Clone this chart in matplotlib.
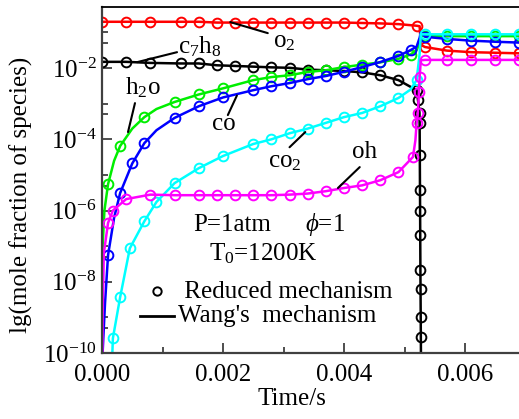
import numpy as np
import matplotlib.pyplot as plt
from matplotlib.lines import Line2D

plt.rcParams['font.family'] = ['Liberation Serif', 'DejaVu Serif']
plt.rcParams['mathtext.fontset'] = 'custom'
plt.rcParams['mathtext.rm'] = 'Liberation Serif'
plt.rcParams['mathtext.it'] = 'Liberation Serif:italic'

# ---- data (time in s, mole fraction) ----
t_o2 = [0, 0.0004, 0.0008, 0.0013, 0.0016, 0.0019, 0.0022, 0.0025, 0.0028, 0.0031, 0.0034, 0.0037,
        0.0040, 0.0043, 0.0046, 0.0049, 0.0052, 0.00525, 0.00527, 0.00534, 0.0057, 0.0061, 0.0065, 0.0069]
o2 = [0.20, 0.20, 0.20, 0.20, 0.20, 0.19, 0.19, 0.19, 0.19, 0.19, 0.19, 0.19,
      0.19, 0.185, 0.18, 0.172, 0.155, 0.15, 0.045, 0.039, 0.031, 0.028, 0.027, 0.026]
mk_o2 = [0, 1, 2, 3, 4, 5, 6, 7, 8, 9, 10, 11, 12, 13, 14, 15, 16, 19, 20, 21, 22, 23]

t_c7h8 = [0, 0.0004, 0.0008, 0.0013, 0.0016, 0.0019, 0.0022, 0.0025, 0.0028, 0.0031, 0.0034, 0.0037,
          0.0040, 0.0043, 0.0046, 0.0049, 0.0052, 0.005223, 0.005248, 0.00525, 0.005253, 0.005256,
          0.005258, 0.00526, 0.005263, 0.005265, 0.005268, 0.00527, 0.00528, 0.0069]
c7h8 = [1.5e-2, 1.5e-2, 1.4e-2, 1.35e-2, 1.35e-2, 1.2e-2, 1.15e-2, 1.1e-2, 1.05e-2, 1.02e-2, 9.1e-3, 8.7e-3,
        8.3e-3, 7.6e-3, 6.3e-3, 4.6e-3, 2.4e-3, 1.26e-3, 5.5e-4, 2.9e-4, 3.6e-5, 3.7e-6,
        1.0e-6, 2.0e-7, 2.1e-8, 6.2e-9, 1.0e-9, 2.8e-10, 1e-12, 1e-12]
mk_c7h8 = list(range(28))

t_h2o = [0, 0.00001, 0.00004, 0.0001, 0.0002, 0.0003, 0.0005, 0.0007, 0.0009, 0.0012, 0.0016, 0.002,
         0.0025, 0.0028, 0.0031, 0.0034, 0.0037, 0.0040, 0.0043, 0.0046, 0.0049, 0.0051, 0.0052,
         0.00525, 0.00527, 0.00534, 0.0057, 0.0061, 0.0065, 0.0069]
h2o = [1e-12, 1.0e-7, 1.0e-6, 5.5e-6, 2.5e-5, 6.5e-5, 2.0e-4, 4.2e-4, 7.1e-4, 1.12e-3, 1.82e-3, 2.7e-3,
       4.6e-3, 5.6e-3, 6.3e-3, 7.8e-3, 8.7e-3, 1.07e-2, 1.25e-2, 1.45e-2, 1.82e-2, 2.4e-2, 3.2e-2,
       5.0e-2, 7.9e-2, 7.9e-2, 7.9e-2, 7.9e-2, 7.9e-2, 7.9e-2]
mk_h2o = [3, 5, 7, 9, 10, 11, 12, 13, 14, 15, 16, 17, 18, 19, 20, 21, 25, 26, 27, 28, 29]

t_co = [0, 0.00001, 0.00005, 0.0001, 0.0002, 0.0003, 0.0005, 0.0007, 0.0009, 0.0012, 0.0016, 0.002,
        0.0025, 0.0028, 0.0031, 0.0034, 0.0037, 0.0040, 0.0043, 0.0046, 0.0049, 0.0051, 0.0052,
        0.00525, 0.00527, 0.00534, 0.0057, 0.0061, 0.0065, 0.0069]
co = [1e-12, 1e-10, 2.5e-9, 5.6e-8, 6.3e-7, 3.1e-6, 2.1e-5, 7.8e-5, 1.8e-4, 4.0e-4, 8.5e-4, 1.5e-3,
      2.4e-3, 3.1e-3, 3.8e-3, 4.9e-3, 6.0e-3, 7.9e-3, 1.07e-2, 1.48e-2, 2.2e-2, 3.2e-2, 4.0e-2,
      7.1e-2, 1.02e-1, 7.6e-2, 6.6e-2, 5.9e-2, 5.5e-2, 5.2e-2]
mk_co = [3, 5, 6, 7, 9, 10, 11, 12, 13, 14, 15, 16, 17, 18, 19, 20, 21, 25, 26, 27, 28, 29]

t_co2 = [0, 0.00015, 0.00018, 0.0003, 0.00046, 0.0007, 0.0009, 0.0012, 0.0016, 0.002, 0.0025, 0.0028,
         0.0031, 0.0034, 0.0037, 0.0040, 0.0043, 0.0046, 0.0049, 0.0051, 0.0052, 0.00525, 0.00527,
         0.00534, 0.0057, 0.0061, 0.0065, 0.0069]
co2 = [1e-12, 1e-11, 2.6e-10, 3.7e-9, 8.7e-8, 5.0e-7, 1.74e-6, 5.9e-6, 1.55e-5, 3.4e-5, 7.4e-5, 1.0e-4,
       1.48e-4, 2.0e-4, 2.9e-4, 4.2e-4, 5.5e-4, 8.5e-4, 1.45e-3, 2.5e-3, 4.6e-3, 2.5e-2, 8.9e-2,
       8.9e-2, 8.9e-2, 8.9e-2, 8.9e-2, 8.9e-2]
mk_co2 = [2, 3, 4, 5, 6, 7, 8, 9, 10, 11, 12, 13, 14, 15, 16, 17, 18, 20, 23, 24, 25, 26, 27]

t_oh = [0, 0.00001, 0.00003, 0.0001, 0.00018, 0.0004, 0.0008, 0.0012, 0.0016, 0.0019, 0.0022, 0.0025,
        0.0028, 0.0031, 0.0034, 0.0037, 0.0040, 0.0043, 0.0046, 0.0049, 0.00514, 0.00518, 0.0052,
        0.00522, 0.00524, 0.00525, 0.00527, 0.00534, 0.0057, 0.0061, 0.0065, 0.0069]
oh = [1e-12, 1e-9, 6.3e-8, 4.5e-7, 1.0e-6, 2.1e-6, 2.8e-6, 2.7e-6, 2.7e-6, 2.7e-6, 2.7e-6, 2.7e-6,
      2.7e-6, 2.8e-6, 3.0e-6, 3.5e-6, 4.3e-6, 5.1e-6, 7.1e-6, 1.2e-5, 3.2e-5, 9.3e-5, 2.8e-4,
      5.5e-4, 2.2e-3, 5.6e-3, 1.66e-2, 1.7e-2, 1.7e-2, 1.7e-2, 1.7e-2, 1.7e-2]
mk_oh = [3, 4, 5, 6, 7, 8, 9, 10, 11, 12, 13, 14, 15, 16, 17, 18, 19, 20, 22, 23, 24, 25, 27, 28, 29, 30, 31]

species = [(t_o2, o2, mk_o2, 'red'),
           (t_c7h8, c7h8, mk_c7h8, 'black'),
           (t_h2o, h2o, mk_h2o, '#00ee00'),
           (t_co, co, mk_co, '#0000ff'),
           (t_co2, co2, mk_co2, 'cyan'),
           (t_oh, oh, mk_oh, 'magenta')]

fig = plt.figure(figsize=(5.19, 4.19), dpi=100)
ax = fig.add_axes([102 / 519, 66 / 419, 423.5 / 519, 346 / 419])

for t, y, mk, c in species:
    ax.plot(t, y, '-', color=c, lw=1.8, marker='o', markevery=mk, ms=7,
            mfc='none', mec=c, mew=1.4)

ax.set_yscale('log')
ax.set_xlim(0, 0.0070)
ax.set_ylim(1e-10, 0.52)

ax.set_xticks([0, 0.002, 0.004, 0.006])
ax.set_xticklabels(['0.000', '0.002', '0.004', '0.006'])
ax.set_xticks([0.001, 0.003, 0.005], minor=True)
yt = [1e-10, 1e-8, 1e-6, 1e-4, 1e-2]
ax.set_yticks(yt)
ax.set_yticklabels([r'$\mathregular{10^{%d}}$' % int(np.log10(v)) for v in yt])
ax.set_yticks([5e-10, 1e-9, 5e-8, 1e-7, 5e-6, 1e-5, 5e-4, 1e-3, 5e-2, 1e-1], minor=True)
ax.yaxis.set_minor_formatter(plt.NullFormatter())

ax.tick_params(which='both', direction='in', top=False, right=False, labelsize=18, color='#404040')
ax.tick_params(which='major', length=7, width=1.3)
ax.tick_params(which='minor', length=4, width=1.3)
ax.tick_params(axis='x', pad=8)
ax.tick_params(axis='y', pad=4)
for s in ['left', 'bottom']:
    ax.spines[s].set_color('#404040')
    ax.spines[s].set_linewidth(1.6)
ax.spines['top'].set_linewidth(1.3)
ax.spines['right'].set_visible(False)

ax.set_xlabel('Time/s', fontsize=18)
ax.xaxis.set_label_coords(0.449, -0.101)
ax.set_ylabel('lg(mole fraction of species)', fontsize=18)
ax.yaxis.set_label_coords(-0.163, 0.457)

# species labels with leader lines
labels = [('o$_2$', 0.00283, 0.039, (0.00212, 0.196), (0.00274, 0.096)),
          ('c$_7$h$_8$', 0.00126, 0.026, (0.00058, 0.0147), (0.00124, 0.028)),
          ('h$_2$o', 0.00038, 0.00186, (0.000545, 0.00104), (0.00043, 1.6e-4)),
          ('co', 0.00182, 1.8e-4, (0.00208, 4.8e-4), (0.00223, 1.7e-3)),
          ('co$_2$', 0.00274, 1.66e-5, (0.0031, 6e-5), (0.00336, 1.6e-4)),
          ('oh', 0.00413, 2.95e-5, (0.00426, 1.66e-5), (0.0039, 4.3e-6))]
for txt, tx, ty, p1, p2 in labels:
    ax.text(tx, ty, txt, fontsize=18, ha='left', va='baseline')
    ax.annotate('', xy=p1, xytext=p2,
                arrowprops=dict(arrowstyle='-', color='black', lw=1.5, shrinkA=0, shrinkB=0))

ax.text(0.215, 0.352, 'P=1atm', transform=ax.transAxes, fontsize=18, va='baseline')
ax.text(0.479, 0.352, r'$\phi$=1', transform=ax.transAxes, fontsize=18, va='baseline')
ax.text(0.252, 0.269, r'T$_0$=1200K', transform=ax.transAxes, fontsize=18, va='baseline')

h1 = Line2D([], [], ls='none', marker='o', ms=6, mfc='none', mec='black', mew=1.4)
h2 = Line2D([], [], color='black', lw=2)
ax.legend([h1, h2], [' Reduced mechanism', "Wang's  mechanism"], loc='center left',
          bbox_to_anchor=(0.0897, 0.142), frameon=False, fontsize=18, borderpad=0,
          borderaxespad=0, handlelength=1.35, handleheight=0, handletextpad=0.16,
          labelspacing=0.1)

fig.savefig('out.png', dpi=100)
